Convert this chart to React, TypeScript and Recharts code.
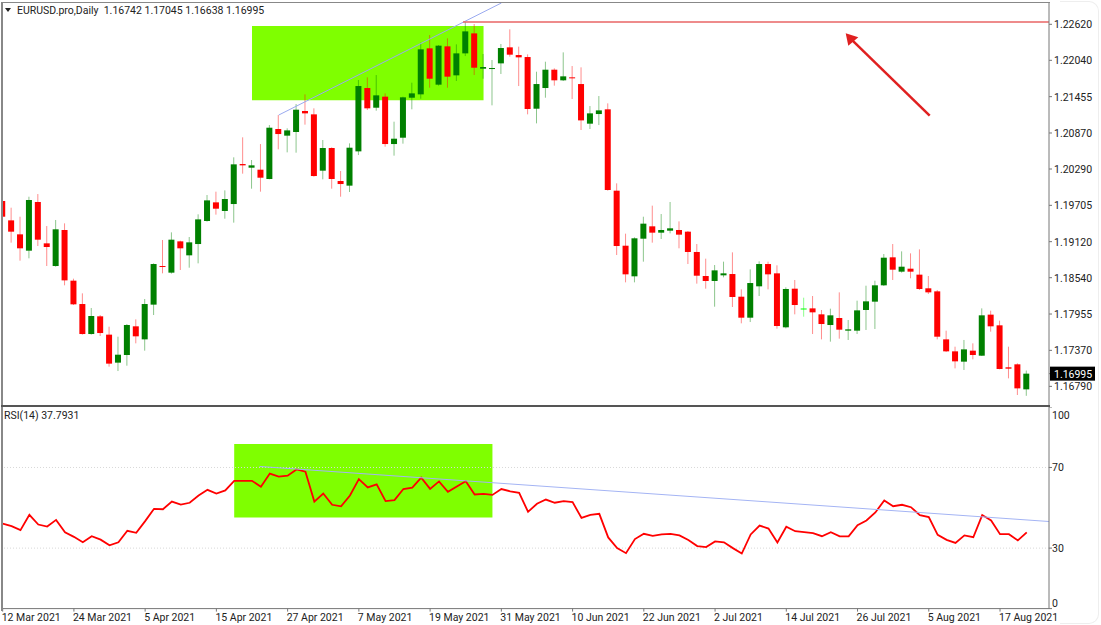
import {
  ComposedChart,
  LineChart,
  Bar,
  Line,
  XAxis,
  YAxis,
  ReferenceArea,
  ReferenceLine,
  ReferenceDot,
} from 'recharts'

const opens = [
  1.19775, 1.19463, 1.19238, 1.18975, 1.19759, 1.19093, 1.18728, 1.19308, 1.18492, 1.18116,
  1.17633, 1.17918, 1.17623, 1.17172, 1.17295, 1.17757, 1.17547, 1.18106, 1.18728, 1.18621,
  1.19125, 1.189, 1.19082, 1.19453, 1.19753, 1.19614, 1.19726, 1.2037, 1.20311, 1.20279,
  1.20129, 1.20934, 1.20827, 1.20886, 1.21224, 1.2117, 1.20263, 1.20628, 1.20097, 1.20022,
  1.20574, 1.21594, 1.21277, 1.21455, 1.20692, 1.20794, 1.21438, 1.21492, 1.22233, 1.21648,
  1.22265, 1.21798, 1.22152, 1.22474, 1.21905, 1.21905, 1.21991, 1.22249, 1.22125, 1.22093,
  1.21261, 1.21594, 1.21889, 1.21718, 1.21766, 1.21658, 1.2102, 1.21175, 1.21251, 1.19941,
  1.19055, 1.18562, 1.19168, 1.19367, 1.19265, 1.19297, 1.19308, 1.19281, 1.18954, 1.18567,
  1.18487, 1.18578, 1.18599, 1.18234, 1.17896, 1.18401, 1.1876, 1.1861, 1.17741, 1.18363,
  1.18044, 1.18046, 1.1795, 1.17778, 1.17891, 1.17687, 1.17687, 1.1802, 1.18154, 1.18417,
  1.18868, 1.18637, 1.18685, 1.18589, 1.18369, 1.1832, 1.17547, 1.17354, 1.17188, 1.17365,
  1.17284, 1.17945, 1.17773, 1.17097, 1.17145, 1.16742,
]

const highs = [
  1.19898, 1.19667, 1.19522, 1.19844, 1.19887, 1.19372, 1.19469, 1.19415, 1.18524, 1.18288,
  1.18052, 1.17939, 1.17751, 1.1759, 1.17794, 1.17869, 1.18197, 1.18771, 1.19147, 1.1927,
  1.19136, 1.19195, 1.1956, 1.19871, 1.19925, 1.19946, 1.20478, 1.208, 1.20435, 1.20692,
  1.20998, 1.21159, 1.20945, 1.21336, 1.21492, 1.21267, 1.20757, 1.20639, 1.20258, 1.20703,
  1.21723, 1.21766, 1.21803, 1.21508, 1.21052, 1.21455, 1.2168, 1.22324, 1.22447, 1.22286,
  1.22394, 1.22297, 1.22657, 1.22625, 1.22142, 1.22045, 1.22303, 1.22539, 1.2226, 1.22136,
  1.21857, 1.22018, 1.21911, 1.22168, 1.21948, 1.21927, 1.21304, 1.21465, 1.21347, 1.20059,
  1.19249, 1.1919, 1.19522, 1.197, 1.19565, 1.19759, 1.19447, 1.19292, 1.19082, 1.18846,
  1.18744, 1.18798, 1.18948, 1.18352, 1.18674, 1.18803, 1.18798, 1.18739, 1.18385, 1.18503,
  1.18218, 1.18245, 1.1802, 1.18041, 1.18304, 1.17859, 1.1817, 1.18411, 1.18492, 1.18921,
  1.19082, 1.18964, 1.18932, 1.18996, 1.18567, 1.18342, 1.17687, 1.17429, 1.17537, 1.17483,
  1.18046, 1.18009, 1.17848, 1.17429, 1.17161, 1.17045,
]

const lows = [
  1.19093, 1.19104, 1.18814, 1.18852, 1.1905, 1.18728, 1.18717, 1.18417, 1.181, 1.17623,
  1.17623, 1.17601, 1.17107, 1.17037, 1.17123, 1.17483, 1.17365, 1.17939, 1.1861, 1.18605,
  1.18664, 1.18701, 1.18771, 1.19442, 1.19555, 1.1949, 1.19426, 1.20215, 1.19973, 1.19925,
  1.20124, 1.20607, 1.20558, 1.20553, 1.21004, 1.20166, 1.20124, 1.19973, 1.19844, 1.1992,
  1.20515, 1.2124, 1.21229, 1.20649, 1.20505, 1.20698, 1.21251, 1.21422, 1.21599, 1.21632,
  1.21599, 1.21707, 1.22109, 1.21803, 1.21744, 1.21315, 1.2182, 1.22099, 1.21626, 1.2117,
  1.21025, 1.21438, 1.21632, 1.21707, 1.21417, 1.20918, 1.20934, 1.20998, 1.19941, 1.18905,
  1.18465, 1.18465, 1.18798, 1.19104, 1.19163, 1.19254, 1.19013, 1.1876, 1.18444, 1.18363,
  1.18073, 1.18546, 1.18068, 1.17805, 1.17826, 1.18245, 1.18352, 1.17719, 1.17724, 1.1795,
  1.17912, 1.17633, 1.17547, 1.1751, 1.17558, 1.17537, 1.17633, 1.17698, 1.17714, 1.18406,
  1.18503, 1.18621, 1.1853, 1.18342, 1.18277, 1.17547, 1.17343, 1.1708, 1.17054, 1.17225,
  1.17279, 1.17671, 1.17064, 1.16919, 1.16651, 1.16638,
]

const closes = [
  1.19522, 1.19281, 1.19013, 1.19791, 1.19152, 1.19034, 1.19319, 1.18497, 1.18111, 1.17633,
  1.17923, 1.17649, 1.17156, 1.173, 1.17778, 1.17596, 1.18116, 1.1876, 1.18712, 1.19152,
  1.19013, 1.19109, 1.19479, 1.19785, 1.19651, 1.19807, 1.20365, 1.20349, 1.20349, 1.2015,
  1.20955, 1.20853, 1.20912, 1.21245, 1.21186, 1.20177, 1.20628, 1.20129, 1.20048, 1.20633,
  1.21626, 1.21267, 1.21476, 1.20692, 1.20778, 1.21444, 1.21508, 1.22217, 1.21744, 1.22276,
  1.21777, 1.22152, 1.22506, 1.21921, 1.21932, 1.21916, 1.22238, 1.22131, 1.22088, 1.21256,
  1.21658, 1.21889, 1.21718, 1.21782, 1.2175, 1.21073, 1.21186, 1.21234, 1.19952, 1.1905,
  1.18594, 1.19174, 1.1941, 1.19265, 1.19308, 1.19335, 1.19233, 1.18954, 1.18572, 1.18487,
  1.18658, 1.1861, 1.18229, 1.17896, 1.18454, 1.1876, 1.18594, 1.17762, 1.18358, 1.181,
  1.18044, 1.17982, 1.17794, 1.17934, 1.17703, 1.17708, 1.18014, 1.18159, 1.18417, 1.18862,
  1.18669, 1.18717, 1.18637, 1.18358, 1.18304, 1.1759, 1.17354, 1.17193, 1.17386, 1.17295,
  1.17934, 1.17757, 1.1707, 1.17075, 1.16758, 1.16995,
]

const rsiValues = [
  42.2, 40.9, 38.9, 46.5, 41.7, 40.7, 44.0, 37.9, 35.6, 32.9,
  35.9, 34.2, 31.4, 32.9, 38.6, 37.6, 43.4, 49.5, 49.3, 53.1,
  51.6, 52.5, 56.1, 58.9, 57.1, 58.6, 63.4, 63.4, 63.4, 60.4,
  67.0, 65.5, 65.9, 69.0, 67.9, 53.1, 57.1, 51.5, 50.7, 56.1,
  64.2, 60.1, 61.6, 53.3, 53.8, 59.3, 60.0, 64.9, 59.4, 63.1,
  57.9, 60.6, 63.2, 56.6, 56.9, 56.4, 59.3, 58.2, 57.4, 48.0,
  52.0, 54.1, 52.5, 53.3, 52.8, 45.0, 46.5, 47.0, 35.3, 30.0,
  27.5, 34.5, 37.1, 36.1, 36.8, 37.1, 36.3, 34.0, 31.0, 30.5,
  33.3, 32.9, 30.0, 27.3, 36.8, 41.2, 39.7, 32.8, 40.6, 38.4,
  37.9, 37.4, 35.9, 37.9, 35.8, 35.8, 41.4, 43.7, 47.7, 53.6,
  50.8, 51.5, 50.3, 46.4, 45.4, 36.6, 34.1, 32.6, 36.3, 35.4,
  46.4, 43.7, 36.9, 36.9, 33.8, 37.7931,
]

const dateTicks = [0, 8, 16, 24, 32, 40, 48, 56, 64, 72, 80, 88, 96, 104, 112]
const dateLabels = [
  '12 Mar 2021', '24 Mar 2021', '5 Apr 2021', '15 Apr 2021', '27 Apr 2021',
  '7 May 2021', '19 May 2021', '31 May 2021', '10 Jun 2021', '22 Jun 2021',
  '2 Jul 2021', '14 Jul 2021', '26 Jul 2021', '5 Aug 2021', '17 Aug 2021',
]
const priceTicks = [
  1.2262, 1.2204, 1.21455, 1.2087, 1.2029, 1.19705, 1.1912, 1.1854, 1.17955, 1.1737, 1.1679, 1.16995,
]
const rsiTicks = [0, 30, 70, 100]

const LAST_CLOSE = 1.16995
const X_DOMAIN = [-0.075, 117.5]
const PRICE_DOMAIN = [1.16474, 1.22963]
const FONT = 'Roboto, sans-serif'
const UP = '#008000'
const DOWN = '#ff0000'
const LIME = '#7fff00'

const candleData = opens.map((open, i) => ({
  idx: i,
  open,
  close: closes[i],
  range: [lows[i], highs[i]],
}))
const rsiData = rsiValues.map((rsi, i) => ({ idx: i, rsi }))

function Candle(props: any) {
  const { x, y, width, height, payload } = props
  const { open, close, range } = payload
  const span = range[1] - range[0]
  const perUnit = span > 0 ? height / span : 0
  const yOpen = y + (range[1] - open) * perUnit
  const yClose = y + (range[1] - close) * perUnit
  const top = Math.min(yOpen, yClose)
  const bodyHeight = Math.max(Math.abs(yOpen - yClose), 1)
  const cx = x + width / 2
  const color = open === close ? '#00ff00' : close > open ? UP : DOWN
  return (
    <g>
      <line x1={cx} x2={cx} y1={y} y2={y + height} stroke={color} strokeWidth={1} strokeOpacity={0.45} />
      <rect x={x} y={top} width={width} height={bodyHeight} fill={color} />
    </g>
  )
}

function PriceTick({ x, y, payload }: any) {
  const isLast = payload.value === LAST_CLOSE
  return (
    <g>
      {isLast && <rect x={x - 4} y={y - 7} width={45} height={14} fill="#000" />}
      <text x={x} y={y + 4} fontSize={10.5} fontFamily={FONT} fill={isLast ? '#fff' : '#222'}>
        {payload.value.toFixed(5)}
      </text>
    </g>
  )
}

function RsiTick({ x, y, payload }: any) {
  const shift = payload.value === 100 ? 8 : payload.value === 0 ? -6 : 0
  return (
    <text x={x} y={y + shift + 4} fontSize={10.5} fontFamily={FONT} fill="#222">
      {payload.value}
    </text>
  )
}

function DateTick({ x, y, payload }: any) {
  return (
    <text x={x - 1} y={y + 9} fontSize={10.5} fontFamily={FONT} fill="#222">
      {dateLabels[dateTicks.indexOf(payload.value)]}
    </text>
  )
}

function ArrowHead({ cx, cy }: any) {
  return <polygon points={`${cx},${cy} ${cx + 2.6},${cy + 12.4} ${cx + 12.6},${cy + 4}`} fill="#e02020" />
}

export default function App() {
  return (
    <div style={{ position: 'absolute', left: 0, top: 0, width: 1101, height: 625, background: '#fff', overflow: 'hidden' }}>
      <div style={{ position: 'absolute', left: 0, top: 0 }}>
        <ComposedChart width={1101} height={406} data={candleData} margin={{ top: 3, right: 0, bottom: 0, left: 2 }}>
          <XAxis dataKey="idx" type="number" domain={X_DOMAIN} ticks={dateTicks} allowDataOverflow hide />
          <YAxis
            orientation="right"
            type="number"
            domain={PRICE_DOMAIN}
            ticks={priceTicks}
            interval={0}
            allowDataOverflow
            width={52}
            tickSize={3}
            tickMargin={2}
            stroke="#777"
            tick={<PriceTick />}
          />
          <ReferenceArea x1={28} x2={54} y1={1.21396} y2={1.22592} fill={LIME} fillOpacity={1} stroke="none" />
          <Bar dataKey="range" barSize={6} shape={<Candle />} isAnimationActive={false} />
          <ReferenceLine
            segment={[{ x: 31, y: 1.21159 }, { x: 56, y: 1.22963 }]}
            stroke="#9aaaf0"
            strokeWidth={1}
            ifOverflow="visible"
          />
          <ReferenceLine
            segment={[{ x: 51.7, y: 1.22657 }, { x: 117.5, y: 1.22657 }]}
            stroke="#e86464"
            strokeWidth={1.3}
            ifOverflow="visible"
          />
          <ReferenceLine
            segment={[{ x: 104.1, y: 1.21148 }, { x: 95.1, y: 1.22405 }]}
            stroke="#e02020"
            strokeWidth={2.5}
            ifOverflow="visible"
          />
          <ReferenceDot x={94.67} y={1.22475} r={1} shape={<ArrowHead />} ifOverflow="visible" />
        </ComposedChart>
      </div>

      <div style={{ position: 'absolute', left: 0, top: 407 }}>
        <LineChart width={1101} height={218} data={rsiData} margin={{ top: 0, right: 0, bottom: 0, left: 2 }}>
          <XAxis
            dataKey="idx"
            type="number"
            domain={X_DOMAIN}
            ticks={dateTicks}
            interval={0}
            allowDataOverflow
            height={16.4}
            tickSize={3}
            tickMargin={0}
            stroke="#777"
            tick={<DateTick />}
          />
          <YAxis
            orientation="right"
            type="number"
            domain={[0, 100]}
            ticks={rsiTicks}
            interval={0}
            width={52}
            tickSize={3}
            tickMargin={0}
            stroke="#777"
            tick={<RsiTick />}
          />
          <ReferenceArea x1={26} x2={55} y1={45.2} y2={81.6} fill={LIME} fillOpacity={1} stroke="none" />
          <ReferenceLine y={70} stroke="#d8d8d8" strokeDasharray="1 2" />
          <ReferenceLine y={30} stroke="#d8d8d8" strokeDasharray="1 2" />
          <Line dataKey="rsi" stroke="#ff0000" strokeWidth={1.8} dot={false} isAnimationActive={false} />
          <ReferenceLine
            segment={[{ x: 28.85, y: 70.5 }, { x: 117.5, y: 43.2 }]}
            stroke="#a4b4f4"
            strokeWidth={1}
            ifOverflow="visible"
          />
        </LineChart>
      </div>

      {/* frame of the terminal window */}
      <div style={{ position: 'absolute', left: 0, top: 0, width: 1.5, height: 611, background: '#fff' }} />
      <div style={{ position: 'absolute', left: 1, top: 2, width: 1.5, height: 609, background: '#888' }} />
      <div style={{ position: 'absolute', left: 1, top: 2, width: 1049, height: 1, background: '#888' }} />
      <div style={{ position: 'absolute', left: 1, top: 405, width: 1049, height: 2, background: '#555' }} />
      <div
        style={{
          position: 'absolute', left: 1060, top: 1, width: 38, height: 621,
          borderTop: '1px solid #eee', borderRight: '1px solid #eee', borderBottom: '1px solid #eee',
          borderTopRightRadius: 10, borderBottomRightRadius: 10, pointerEvents: 'none',
        }}
      />

      {/* chart headers */}
      <div style={{ position: 'absolute', left: 5, top: 8, width: 0, height: 0, borderLeft: '3px solid transparent', borderRight: '3px solid transparent', borderTop: '4px solid #222' }} />
      <div style={{ position: 'absolute', left: 17, top: 4, font: `10.5px/14px ${FONT}`, color: '#222', whiteSpace: 'pre' }}>
        {'EURUSD.pro,Daily  1.16742 1.17045 1.16638 1.16995'}
      </div>
      <div style={{ position: 'absolute', left: 4, top: 409, font: `10.5px/14px ${FONT}`, color: '#222', whiteSpace: 'pre' }}>
        {'RSI(14) 37.7931'}
      </div>
    </div>
  )
}
